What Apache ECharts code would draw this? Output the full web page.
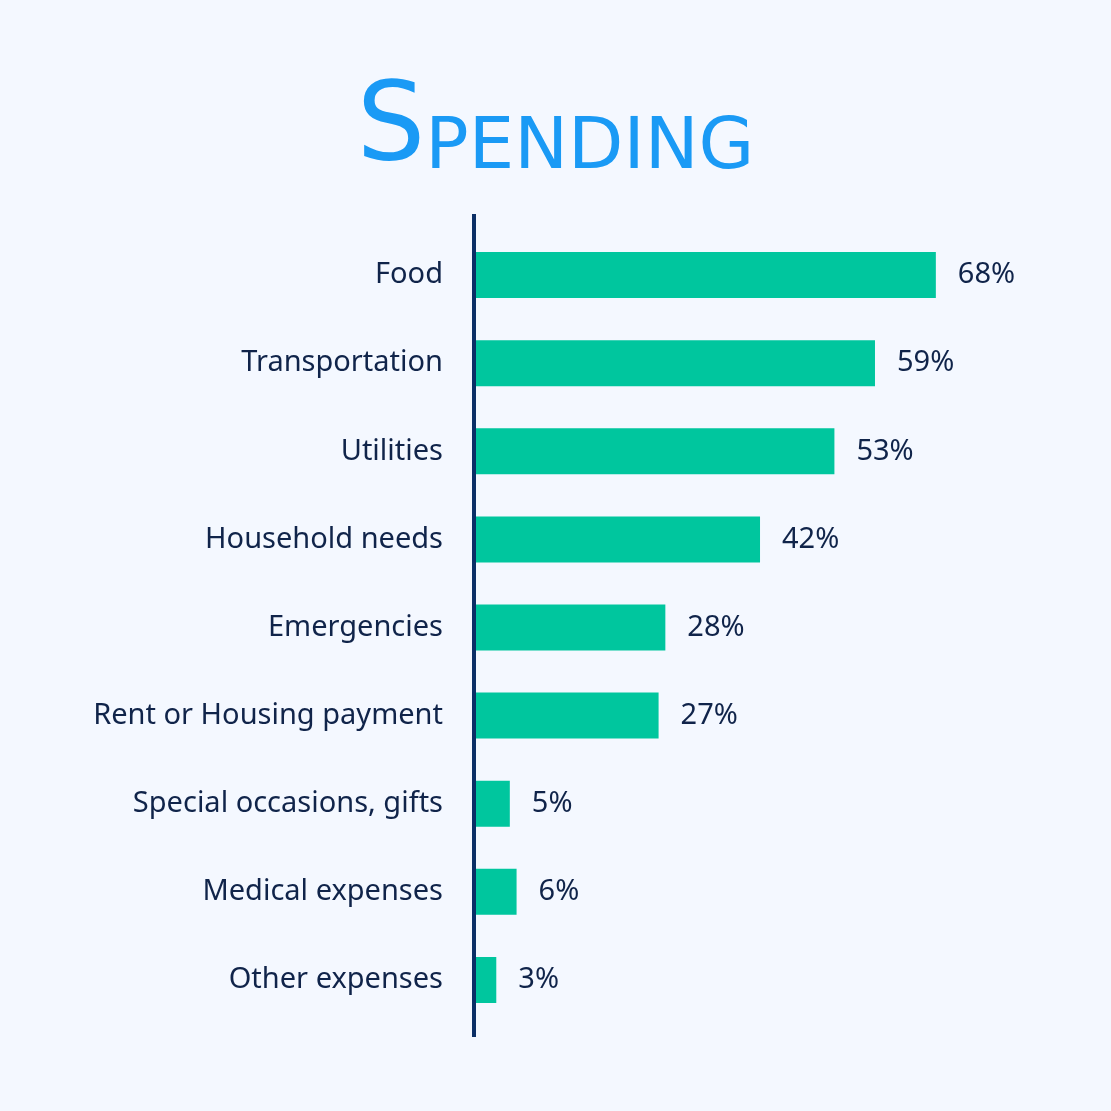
<!DOCTYPE html>
<html>
<head>
<meta charset="utf-8">
<style>
html,body{margin:0;padding:0;background:#f4f8ff;}
#c{width:1111px;height:1111px;}
</style>
<script src="https://cdn.jsdelivr.net/npm/echarts@6/dist/echarts.min.js"></script>
</head>
<body>
<div id="c"></div>
<script>
const categories = ["Food","Transportation","Utilities","Household needs","Emergencies","Rent or Housing payment","Special occasions, gifts","Medical expenses","Other expenses"];
const values = [68,59,53,42,28,27,5,6,3];

const chart = echarts.init(document.getElementById('c'));
const textColor = '#10244a';
chart.setOption({
  backgroundColor: '#f4f8ff',
  title: {
    text: '{a|S}{b|PENDING}',
    left: 'center',
    top: 72,
    textStyle: {
      rich: {
        a: {fontFamily: 'DejaVu Sans', fontSize: 108, color: '#1a9af5', fontWeight: 'normal'},
        b: {fontFamily: 'DejaVu Sans', fontSize: 72, color: '#1a9af5', fontWeight: 'normal', verticalAlign:'bottom'}
      }
    }
  },
  grid: {left: 476, top: 231, width: 541, height: 793, containLabel: false},
  xAxis: {type: 'value', min: 0, max: 80, show: false},
  yAxis: {
    type: 'category',
    data: categories,
    inverse: true,
    axisLine: {show: false},
    axisTick: {show: false},
    axisLabel: {color: textColor, fontSize: 29, fontFamily: 'Noto Sans', margin: 33}
  },
  series: [{
    type: 'bar',
    data: values,
    barWidth: 46,
    itemStyle: {color: '#00c69e'},
    label: {
      show: true,
      position: 'right',
      distance: 22,
      formatter: '{c}%',
      color: textColor,
      fontSize: 29,
      fontFamily: 'Noto Sans'
    },
    silent: true
  }],
  graphic: [{
    type: 'line',
    shape: {x1: 474, y1: 214, x2: 474, y2: 1037},
    style: {stroke: '#0b2f66', lineWidth: 4},
    z: 10
  }]
});
</script>
</body>
</html>
